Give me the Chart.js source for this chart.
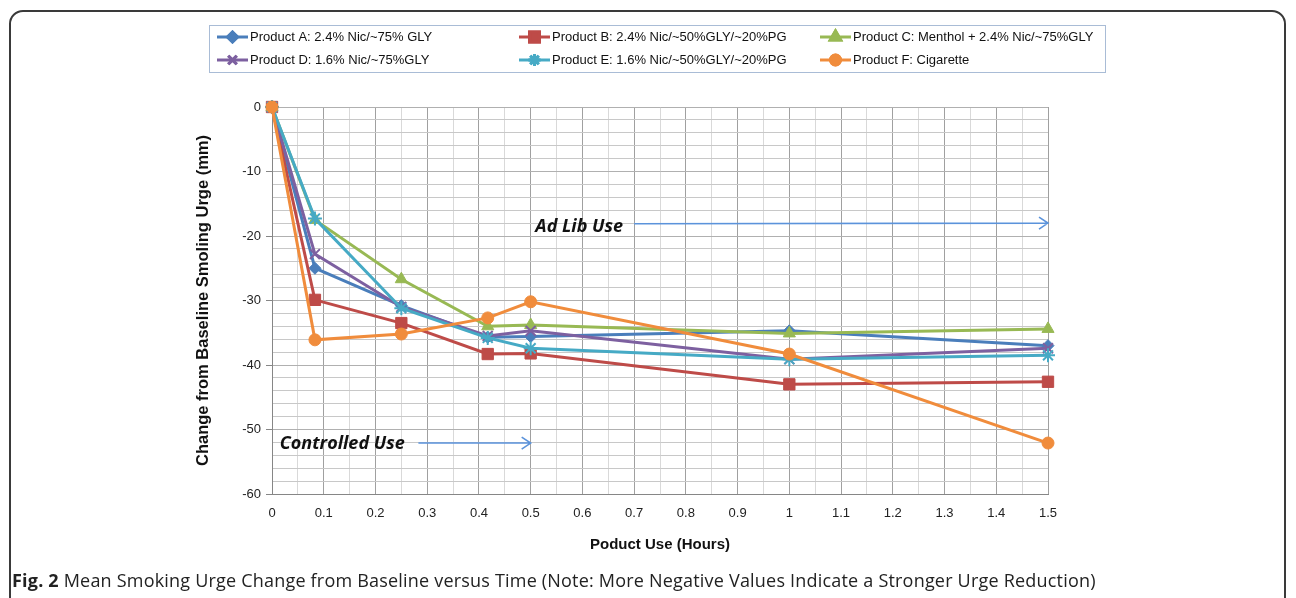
<!DOCTYPE html>
<html>
<head>
<meta charset="utf-8">
<script src="https://cdn.jsdelivr.net/npm/chart.js@4.4.0/dist/chart.umd.min.js"></script>
<style>
  html, body { margin: 0; padding: 0; background: #fff; }
  #wrap { position: relative; width: 1296px; height: 598px; overflow: hidden; }
  #frame { position: absolute; left: 9px; top: 10px; width: 1277px; height: 640px;
           border: 2px solid #3a3a3a; border-radius: 14px; box-sizing: border-box; }
  #chart { position: absolute; left: 0; top: 0; }
  #caption { position: absolute; left: 12px; top: 568px; font-family: 'Open Sans', sans-serif;
             font-size: 18px; color: #222; white-space: nowrap; letter-spacing: 0.2px; }
  #caption b { font-weight: 700; }
</style>
</head>
<body>
<div id="wrap">
  <div id="frame"></div>
  <canvas id="chart" width="1296" height="598"></canvas>
  <div id="caption"><b>Fig. 2</b> Mean Smoking Urge Change from Baseline versus Time (Note: More Negative Values Indicate a Stronger Urge Reduction)</div>
</div>
<script>
// time points (hours)
const hours = [0, 0.083, 0.25, 0.417, 0.5, 1, 1.5];

const productA = [0, -25.0, -30.8, -35.7, -35.6, -34.7, -37.0];
const productB = [0, -29.9, -33.5, -38.3, -38.2, -43.0, -42.6];
const productC = [0, -17.5, -26.7, -34.0, -33.8, -35.1, -34.4];
const productD = [0, -22.8, -31.0, -35.5, -34.7, -39.1, -37.4];
const productE = [0, -17.3, -31.2, -35.8, -37.4, -39.1, -38.5];
const productF = [0, -36.1, -35.2, -32.7, -30.2, -38.3, -52.1];

const seriesNames = [
  'Product A: 2.4% Nic/~75% GLY',
  'Product B: 2.4% Nic/~50%GLY/~20%PG',
  'Product C: Menthol + 2.4% Nic/~75%GLY',
  'Product D: 1.6% Nic/~75%GLY',
  'Product E: 1.6% Nic/~50%GLY/~20%PG',
  'Product F: Cigarette'
];
const seriesColors = ['#4A7EBB', '#BE4B48', '#98B954', '#7D60A0', '#46AAC5', '#F08C3C'];
const seriesMarkers = ['rectRot', 'rect', 'triangle', 'crossRot', 'star', 'circle'];
const markerSizes = [6, 8, 7, 7, 7, 6];

const xTickMin = 0, xTickMax = 1.5;
const yTickMin = -60, yTickMax = 0;

// text annotations with arrows (data units)
const notes = [
  { text: 'Ad Lib Use', x: 0.509, y: -18.6, from: [0.70, -18.1], to: [1.5, -18.0] },
  { text: 'Controlled Use', x: 0.015, y: -52.3, from: [0.283, -52.1], to: [0.5, -52.1] }
];

const allSeries = [productA, productB, productC, productD, productE, productF];

const narrow = "'Liberation Sans Narrow', 'Liberation Sans', sans-serif";

const datasets = allSeries.map((vals, i) => ({
  label: seriesNames[i],
  data: vals.map((v, j) => ({ x: hours[j], y: v })),
  borderColor: seriesColors[i],
  backgroundColor: seriesColors[i],
  borderWidth: 3,
  pointStyle: seriesMarkers[i],
  pointRadius: markerSizes[i],
  pointBorderWidth: (i === 3 || i === 4) ? 2 : 1,
  pointBorderColor: seriesColors[i],
  pointBackgroundColor: seriesColors[i],
  order: allSeries.length - i,   // later series on top, like Excel
  clip: false,
  tension: 0
}));

const isMajor = (v, step) => Math.abs(v / step - Math.round(v / step)) < 1e-6;

const extras = {
  id: 'extras',
  afterDatasetsDraw(chart) {
    const ctx = chart.ctx;
    const xs = chart.scales.x, ys = chart.scales.y;
    ctx.save();
    notes.forEach(n => {
      ctx.font = "bold italic 18px 'Open Sans', sans-serif";
      ctx.fillStyle = '#111';
      ctx.textBaseline = 'middle';
      ctx.textAlign = 'left';
      ctx.fillText(n.text, xs.getPixelForValue(n.x), ys.getPixelForValue(n.y));
      const x1 = xs.getPixelForValue(n.from[0]), y1 = ys.getPixelForValue(n.from[1]);
      const x2 = xs.getPixelForValue(n.to[0]), y2 = ys.getPixelForValue(n.to[1]);
      ctx.strokeStyle = '#5B93DB';
      ctx.lineWidth = 1.6;
      ctx.beginPath();
      ctx.moveTo(x1, y1);
      ctx.lineTo(x2, y2);
      ctx.moveTo(x2 - 9, y2 - 6);
      ctx.lineTo(x2, y2);
      ctx.lineTo(x2 - 9, y2 + 6);
      ctx.stroke();
    });
    ctx.restore();
  },
  afterDraw(chart) {
    // Excel-style legend box
    const ctx = chart.ctx;
    ctx.save();
    ctx.strokeStyle = '#A9BCD6';
    ctx.lineWidth = 1;
    ctx.strokeRect(209.5, 25.5, 896, 47);
    const cols = [217, 519, 820];
    const rows = [37, 60];
    chart.data.datasets.forEach((ds, i) => {
      const x = cols[i % 3], y = rows[Math.floor(i / 3)];
      ctx.strokeStyle = ds.borderColor;
      ctx.lineWidth = 3;
      ctx.beginPath();
      ctx.moveTo(x, y);
      ctx.lineTo(x + 31, y);
      ctx.stroke();
      Chart.helpers.drawPoint(ctx, {
        pointStyle: ds.pointStyle,
        radius: ds.pointRadius - 1,
        borderWidth: ds.pointBorderWidth
      }, x + 15.5, y);
      if (ds.pointStyle !== 'crossRot' && ds.pointStyle !== 'star') {
        ctx.fillStyle = ds.backgroundColor;
        ctx.fill();
      }
      ctx.stroke();
      ctx.fillStyle = '#111';
      ctx.font = '13px ' + narrow;
      ctx.textBaseline = 'middle';
      ctx.textAlign = 'left';
      ctx.fillText(ds.label, x + 33, y);
    });
    ctx.restore();
  }
};

new Chart(document.getElementById('chart').getContext('2d'), {
  type: 'line',
  data: { datasets: datasets },
  options: {
    responsive: false,
    animation: false,
    layout: { padding: { left: 190, right: 248, top: 107, bottom: 40 } },
    plugins: {
      legend: { display: false },
      tooltip: { enabled: false }
    },
    scales: {
      x: {
        type: 'linear',
        min: xTickMin,
        max: xTickMax,
        afterFit(scale) { scale.height = 64; },
        ticks: {
          stepSize: 0.05,
          autoSkip: false,
          maxRotation: 0,
          padding: 6,
          color: '#222',
          font: { size: 13, family: narrow },
          callback: v => isMajor(v, 0.1) ? String(Math.round(v * 10) / 10) : ''
        },
        grid: {
          color: c => isMajor(c.tick.value, 0.1) ? '#A0A0A0' : '#D9D9D9',
          tickLength: 6,
          tickColor: 'rgba(0,0,0,0)'
        },
        border: { color: '#868686', width: 1 },
        title: {
          display: true,
          text: 'Poduct Use (Hours)',
          color: '#111',
          font: { size: 15, weight: 'bold', family: narrow },
          padding: { top: 4, bottom: 4 }
        }
      },
      y: {
        min: yTickMin,
        max: yTickMax,
        afterFit(scale) { scale.width = 82; },
        ticks: {
          stepSize: 2,
          autoSkip: false,
          padding: 5,
          color: '#222',
          font: { size: 13, family: narrow },
          callback: v => isMajor(v, 10) ? String(v) : ''
        },
        grid: {
          color: c => isMajor(c.tick.value, 10) ? '#B0B0B0' : '#C8C8C8',
          tickLength: 6,
          tickColor: c => isMajor(c.tick.value, 10) ? '#868686' : 'rgba(0,0,0,0)'
        },
        border: { color: '#868686', width: 1 },
        title: {
          display: true,
          text: 'Change from Baseline Smoling Urge (mm)',
          color: '#111',
          font: { size: 16.5, weight: 'bold', family: "'Liberation Sans', Arial, sans-serif" },
          padding: { top: 4, bottom: 4 }
        }
      }
    }
  },
  plugins: [extras]
});
</script>
</body>
</html>
